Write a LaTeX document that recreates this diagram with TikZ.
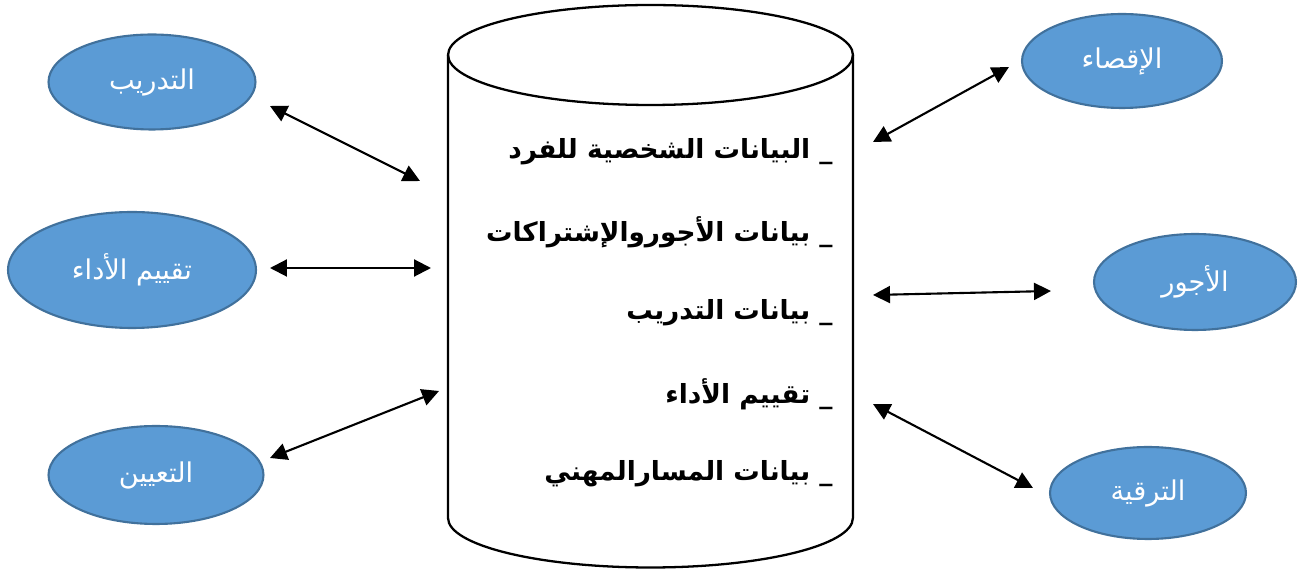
\documentclass[tikz,border=0pt]{standalone}
\usepackage{fontspec}
\usetikzlibrary{shapes.geometric,arrows.meta}
\TeXXeTstate=1
\newfontfamily\arabicfont[Script=Arabic]{DejaVu Sans}
\definecolor{bubblefill}{HTML}{5B9BD5}
\definecolor{bubbleline}{HTML}{41719C}
\tikzset{
  bubble/.style={ellipse, draw=bubbleline, line width=1.2pt, fill=bubblefill,
    text=white, inner sep=0pt, font=\arabicfont\fontsize{15.5}{18}\selectfont},
  tip/.style={Triangle[length=0.34cm,width=0.34cm]},
  link/.style={line width=1.2pt, {Triangle[length=0.34cm,width=0.34cm]}-{Triangle[length=0.34cm,width=0.34cm]}},
  cyl/.style={line width=1.3pt},
  item/.style={anchor=east, inner sep=0pt, font=\arabicfont\bfseries\fontsize{15}{18}\selectfont}
}
\begin{document}
\begin{tikzpicture}[x=0.02cm, y=-0.02cm]
  \useasboundingbox (0,0) rectangle (1303,570);

  % the data store
  \draw[cyl] (650.5,55) ellipse [x radius=4.05cm, y radius=1cm];
  \draw[cyl] (448,55) -- (448,518) arc[start angle=180, end angle=360, x radius=4.05cm, y radius=0.99cm] -- (853,55);

  % its contents
  \node[item] (d1) at (833,152) {\beginR\_ البيانات الشخصية للفرد\endR};
  \node[item] (d2) at (833,232) {\beginR\_ بيانات الأجوروالإشتراكات\endR};
  \node[item] (d3) at (833,313) {\beginR\_ بيانات التدريب\endR};
  \node[item] (d4) at (833,394) {\beginR\_ تقييم الأداء\endR};
  \node[item] (d5) at (833,474) {\beginR\_ بيانات المسارالمهني\endR};

  % left-hand processes
  \node[bubble, minimum width=4.14cm, minimum height=1.9cm] (train) at (152,82) {\beginR التدريب\endR};
  \node[bubble, minimum width=4.96cm, minimum height=2.32cm] (eval) at (132,270) {\beginR تقييم الأداء\endR};
  \node[bubble, minimum width=4.3cm, minimum height=1.96cm] (hire) at (156,475) {\beginR التعيين\endR};

  % right-hand processes
  \node[bubble, minimum width=4.0cm, minimum height=1.88cm] (exclude) at (1122,61) {\beginR الإقصاء\endR};
  \node[bubble, minimum width=4.04cm, minimum height=1.92cm] (wages) at (1195,282) {\beginR الأجور\endR};
  \node[bubble, minimum width=3.92cm, minimum height=1.84cm] (promo) at (1148,493) {\beginR الترقية\endR};

  % arrow end points
  \coordinate (trainA) at (270,106);  \coordinate (trainB) at (420,181);
  \coordinate (evalA) at (270,268);   \coordinate (evalB) at (431,268);
  \coordinate (hireA) at (270,458);   \coordinate (hireB) at (439,391);
  \coordinate (exclA) at (873,142);   \coordinate (exclB) at (1009,67);
  \coordinate (wageA) at (873,295);   \coordinate (wageB) at (1051,291);
  \coordinate (promA) at (873,404);   \coordinate (promB) at (1033,488);

  % exchanges with the store
  \draw[link] (trainA) -- (trainB);
  \draw[link] (evalA) -- (evalB);
  \draw[link] (hireA) -- (hireB);
  \draw[link] (exclA) -- (exclB);
  \draw[link] (wageA) -- (wageB);
  \draw[link] (promA) -- (promB);
\end{tikzpicture}
\end{document}
